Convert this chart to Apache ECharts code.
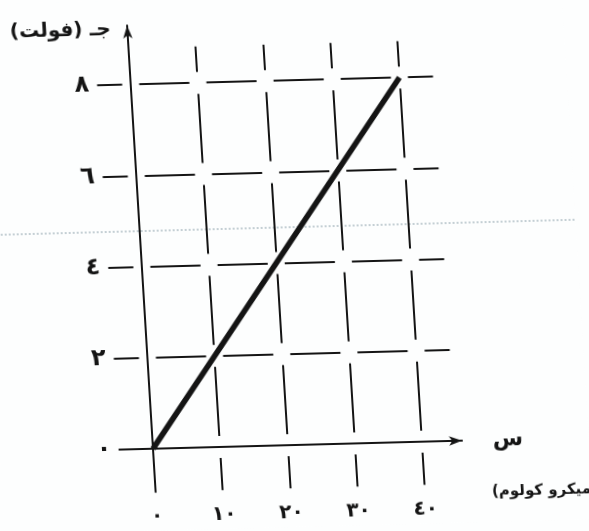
<!DOCTYPE html>
<html>
<head>
<meta charset="utf-8">
<script src="https://cdn.jsdelivr.net/npm/echarts@6/dist/echarts.min.js"></script>
<style>
  html, body { margin: 0; padding: 0; background: #fdfefe; overflow: hidden; }
  #chart {
    width: 589px; height: 531px;
    /* the printed figure sits slightly rotated and sheared on the page */
    transform-origin: 153px 449px;
    transform: rotate(-1.5deg) skewX(2deg);
  }
</style>
</head>
<body>
<div id="chart"></div>
<script>
// charge (micro-coulomb) against voltage (volt) for the capacitor
const charge = [0, 10, 20, 30, 40];
const voltage = [0, 2, 4, 6, 8];

// tick values and their printed labels (Arabic-Indic digits)
const xTickValues = [0, 10, 20, 30, 40];
const xTickLabels = ['٠', '١٠', '٢٠', '٣٠', '٤٠'];
const yTickValues = [0, 2, 4, 6, 8];
const yTickLabels = ['٠', '٢', '٤', '٦', '٨'];

const RLM = '\u200F';
const yAxisTitle = 'جـ (فولت)';
const xAxisSymbol = 'س';
const xAxisUnit = '(میکرو کولوم)';

// axis extents (data units) and pixel layout
const X_MIN = -5, X_MAX = 46, Y_MIN = -0.95, Y_MAX = 9.3;
const GRID_X_END = 45, GRID_Y_TOP = 8.8;
const ORIGIN = [153, 449];
const PX_X = 6.72;   // pixels per micro-coulomb
const PX_Y = 45.6;   // pixels per volt

const gridLeft = ORIGIN[0] + X_MIN * PX_X;
const gridTop = ORIGIN[1] - Y_MAX * PX_Y;
const gridWidth = (X_MAX - X_MIN) * PX_X;
const gridHeight = (Y_MAX - Y_MIN) * PX_Y;

const ink = '#141414';

// broken grid lines: gaps centred on every crossing
const hPeriod = 10 * PX_X, hGap = 17, hDash = hPeriod - hGap;
const hOffset = hDash - ((0 - X_MIN) * PX_X - hGap / 2);
const vPeriod = 2 * PX_Y, vGap = 22, vDash = vPeriod - vGap;
const vOffset = vDash - ((0 - Y_MIN) * PX_Y - vGap / 2);

const gridLines = [];
yTickValues.filter(v => v !== 0).forEach(v => {
  gridLines.push([
    { coord: [X_MIN, v], lineStyle: { color: ink, width: 2.2, type: [hDash, hGap], dashOffset: hOffset } },
    { coord: [GRID_X_END, v] }
  ]);
});
xTickValues.filter(v => v !== 0).forEach(v => {
  gridLines.push([
    { coord: [v, Y_MIN], lineStyle: { color: ink, width: 2, type: [vDash, vGap], dashOffset: vOffset } },
    { coord: [v, GRID_Y_TOP] }
  ]);
});

const chart = echarts.init(document.getElementById('chart'), null, { renderer: 'canvas' });
chart.setOption({
  animation: false,
  backgroundColor: '#fdfefe',
  grid: {
    left: gridLeft, top: gridTop, width: gridWidth, height: gridHeight,
    containLabel: false, outerBoundsMode: 'none'
  },
  xAxis: {
    type: 'value', min: X_MIN, max: X_MAX,
    axisLine: { show: true, onZero: true, symbol: ['none', 'arrow'], symbolSize: [7, 13],
                lineStyle: { color: ink, width: 2 } },
    axisTick: { show: false },
    splitLine: { show: false },
    axisLabel: {
      customValues: xTickValues,
      margin: 14,
      color: ink, fontFamily: 'DejaVu Sans', fontWeight: 'bold', fontSize: 20,
      formatter: v => xTickLabels[xTickValues.indexOf(v)] || ''
    }
  },
  yAxis: {
    type: 'value', min: Y_MIN, max: Y_MAX,
    axisLine: { show: true, onZero: true, symbol: ['none', 'arrow'], symbolSize: [7, 13],
                lineStyle: { color: ink, width: 2 } },
    axisTick: { show: false },
    splitLine: { show: false },
    axisLabel: {
      customValues: yTickValues,
      margin: 8,
      color: ink, fontFamily: 'DejaVu Sans', fontWeight: 'bold', fontSize: 24,
      formatter: v => yTickLabels[yTickValues.indexOf(v)] || ''
    }
  },
  series: [{
    type: 'line',
    z: 10,
    data: charge.map((q, i) => [q, voltage[i]]),
    showSymbol: false,
    lineStyle: { color: ink, width: 5.5, cap: 'butt' },
    markLine: {
      z: 1,
      silent: true,
      symbol: ['none', 'none'],
      label: { show: false },
      data: gridLines
    }
  }],
  graphic: [
    {
      type: 'line', silent: true, z: 0,
      shape: { x1: -30, y1: 231, x2: 640, y2: 231 },
      style: { stroke: '#9fb0b8', lineWidth: 1.2, lineDash: [2, 2] }
    },
    {
      type: 'text', x: 86, y: 29,
      style: { text: RLM + yAxisTitle + RLM, font: 'bold 20px "DejaVu Sans"', fill: ink, align: 'center', verticalAlign: 'middle' }
    },
    {
      type: 'text', x: 508, y: 449,
      style: { text: xAxisSymbol, font: 'bold 22px "DejaVu Sans"', fill: ink, align: 'center', verticalAlign: 'middle' }
    },
    {
      type: 'text', x: 489, y: 501,
      style: { text: RLM + xAxisUnit + RLM, font: 'bold 15px "DejaVu Sans"', fill: ink, align: 'left', verticalAlign: 'middle' }
    }
  ]
});
</script>
</body>
</html>
